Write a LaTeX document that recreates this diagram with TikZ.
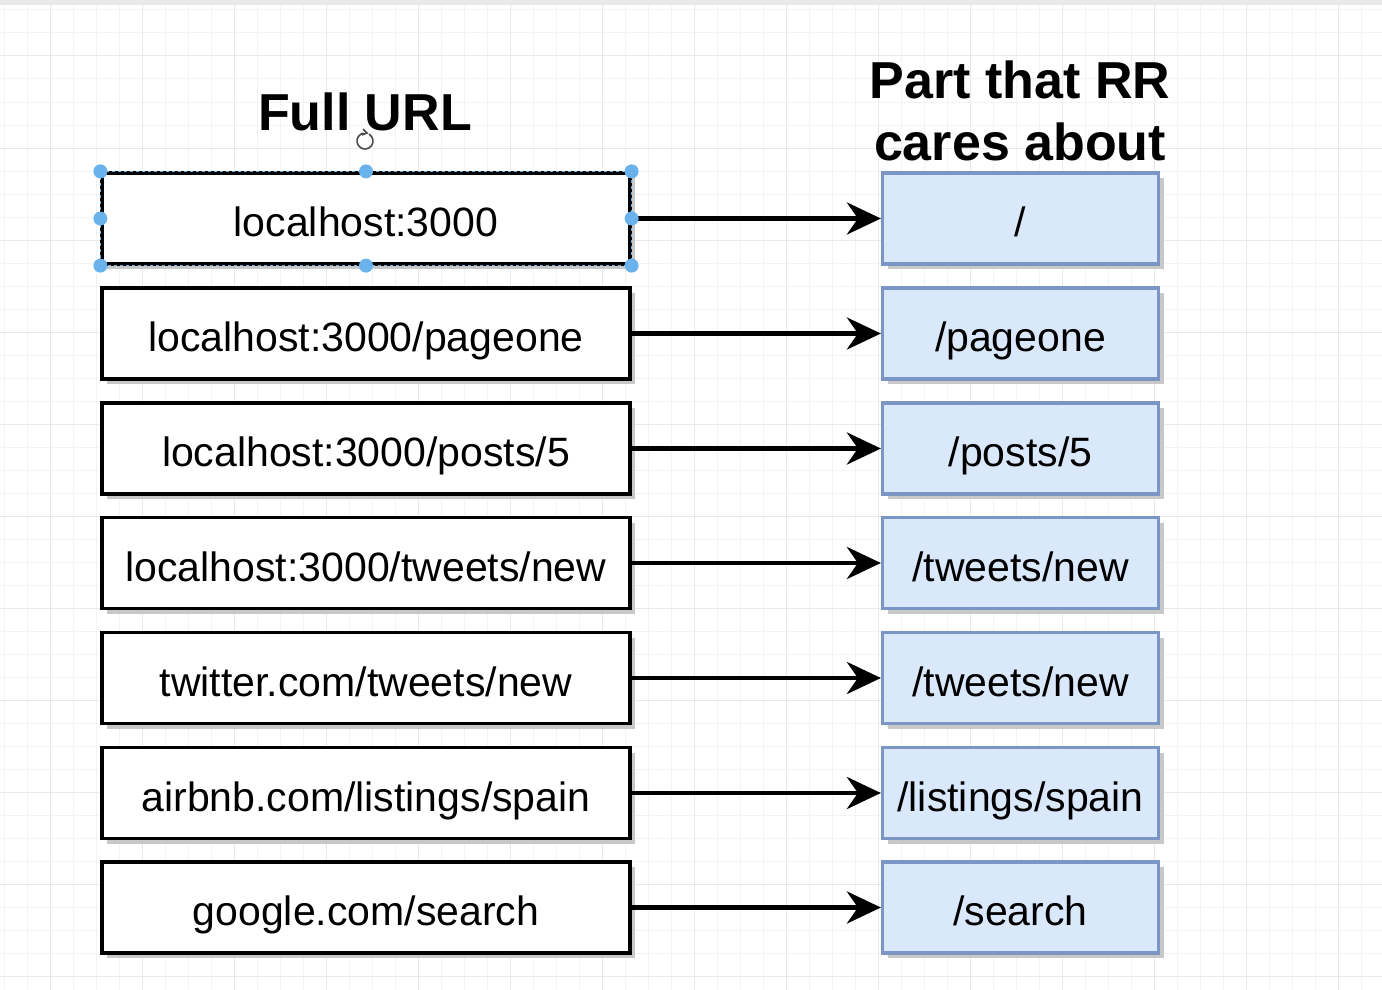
\documentclass[tikz,border=0pt]{standalone}
\usepackage{fontspec}
\setmainfont{Liberation Sans}
\usetikzlibrary{arrows.meta,shadows}
\definecolor{gridminor}{HTML}{F3F3F3}
\definecolor{gridmajor}{HTML}{E9E9E9}
\definecolor{rrfill}{HTML}{DAE8FC}
\definecolor{rrdraw}{HTML}{7B96C4}
\definecolor{handle}{HTML}{6AB2EC}
\definecolor{shadowgray}{HTML}{C8C8C8}
\tikzset{
  basebox/.style={line width=3.2pt, inner sep=0pt, minimum height=91pt,
    font=\fontsize{41}{49}\selectfont, text height=40pt, text depth=4pt,
    drop shadow={shadow xshift=5pt, shadow yshift=-5pt, fill=shadowgray, opacity=1}},
  urlbox/.style={basebox, draw=black, fill=white, minimum width=528pt},
  rrbox/.style={basebox, draw=rrdraw, fill=rrfill, minimum width=276pt},
  conn/.style={line width=4.8pt, -{Stealth[length=34pt, width=32pt, inset=11pt]}},
  titletext/.style={font=\fontsize{52}{62}\selectfont\bfseries, align=center, inner sep=0pt},
  handledot/.style={circle, fill=handle, inner sep=0pt, minimum size=14pt},
  selline/.style={draw=handle, line width=1pt, dash pattern=on 3pt off 3pt},
}
\begin{document}
\begin{tikzpicture}[x=1pt,y=-1pt]
\useasboundingbox (0,0) rectangle (1382,990);
\fill[white] (0,0) rectangle (1382,990);
% grid
\foreach \gx in {4,27,...,1382} \draw[gridminor, line width=1pt] (\gx,0) -- (\gx,990);
\foreach \gy in {10,33,...,990} \draw[gridminor, line width=1pt] (0,\gy) -- (1382,\gy);
\foreach \gx in {50,142,...,1382} \draw[gridmajor, line width=1pt] (\gx,0) -- (\gx,990);
\foreach \gy in {56,148,...,990} \draw[gridmajor, line width=1pt] (0,\gy) -- (1382,\gy);
\fill[gridmajor] (0,0) rectangle (1382,5);

% titles
\node[titletext, anchor=base] (t1) at (365,130) {Full URL};
\node[titletext] (t2) at (1020,111) {Part that RR\\cares about};

% boxes
\node[urlbox] (u1) at (366,218.5) {localhost:3000};
\node[urlbox] (u2) at (366,333.5) {localhost:3000/pageone};
\node[urlbox] (u3) at (366,448.5) {localhost:3000/posts/5};
\node[urlbox] (u4) at (366,563) {localhost:3000/tweets/new};
\node[urlbox] (u5) at (366,678) {twitter.com/tweets/new};
\node[urlbox] (u6) at (366,793) {airbnb.com/listings/spain};
\node[urlbox] (u7) at (366,907.5) {google.com/search};

\node[rrbox] (r1) at (1020.5,218.5) {/};
\node[rrbox] (r2) at (1020.5,333.5) {/pageone};
\node[rrbox] (r3) at (1020.5,448.5) {/posts/5};
\node[rrbox] (r4) at (1020.5,563) {/tweets/new};
\node[rrbox] (r5) at (1020.5,678) {/tweets/new};
\node[rrbox] (r6) at (1020.5,793) {/listings/spain};
\node[rrbox] (r7) at (1020.5,907.5) {/search};

\foreach \i in {1,...,7} \draw[conn] (u\i.east) -- (r\i.west);

% selection of first box
\draw[selline] (u1.north west) rectangle (u1.south east);
\foreach \a in {north west,north,north east,west,east,south west,south,south east}
  \node[handledot] at (u1.\a) {};
\draw[black!70, line width=1.6pt] (365,141) ++(100:8pt) arc[start angle=100, end angle=420, radius=8pt];
\draw[black!70, line width=1.6pt] (363,129) -- (367,133) -- (362,135);
\end{tikzpicture}
\end{document}
